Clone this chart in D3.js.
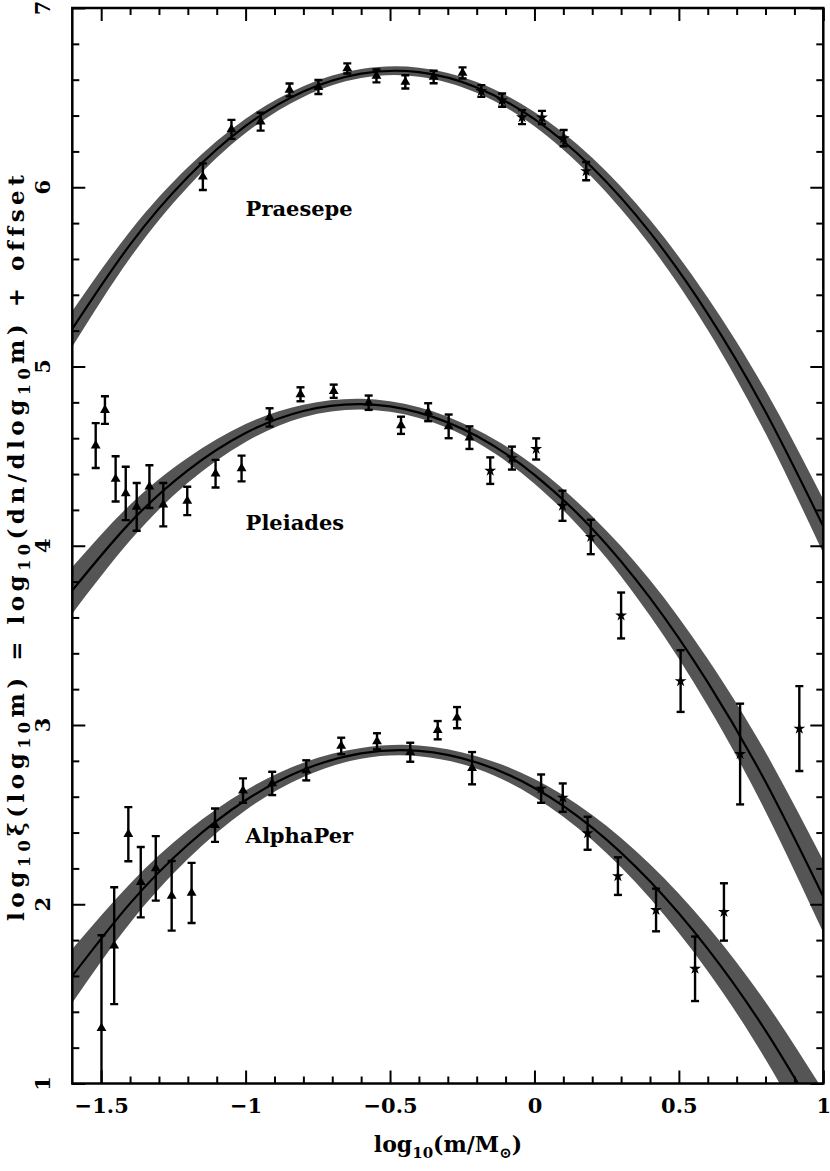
<!DOCTYPE html>
<html><head><meta charset="utf-8">
<script src="https://cdn.jsdelivr.net/npm/d3@7"></script>
<style>body{margin:0;background:#fff}svg{display:block}</style>
</head><body>
<svg id="c" width="830" height="1171"></svg>
<script>
// ---------- data ----------
const xTicks = [-1.5, -1, -0.5, 0, 0.5, 1];
const xTickLabels = ["\u22121.5", "\u22121", "\u22120.5", "0", "0.5", "1"];
const yTicks = [1, 2, 3, 4, 5, 6, 7];
const yTickLabels = ["1", "2", "3", "4", "5", "6", "7"];
const clusterNames = ["Praesepe", "Pleiades", "AlphaPer"];

const praesepeMass = [-1.148,-1.049,-0.948,-0.848,-0.748,-0.648,-0.547,-0.447,-0.349,-0.249,-0.184,-0.112,-0.043,0.026,0.101,0.179];
const praesepeValue = [6.059,6.323,6.366,6.543,6.559,6.663,6.621,6.588,6.615,6.638,6.537,6.486,6.391,6.389,6.274,6.090];
const praesepeErr = [0.074,0.053,0.050,0.036,0.039,0.028,0.036,0.037,0.035,0.031,0.033,0.037,0.039,0.037,0.045,0.051];
const praesepeMarker = ["t","t","t","t","t","t","t","t","t","t","s","s","s","s","s","s"];

const pleiadesMass = [-1.519,-1.487,-1.450,-1.415,-1.377,-1.333,-1.285,-1.202,-1.104,-1.014,-0.917,-0.810,-0.695,-0.574,-0.462,-0.368,-0.297,-0.225,-0.153,-0.078,0.006,0.097,0.195,0.300,0.506,0.712,0.917];
const pleiadesValue = [4.559,4.757,4.373,4.292,4.217,4.330,4.229,4.250,4.402,4.431,4.716,4.845,4.862,4.798,4.672,4.745,4.666,4.603,4.419,4.489,4.540,4.223,4.049,3.611,3.245,2.838,2.980];
const pleiadesErr = [0.125,0.077,0.126,0.149,0.133,0.119,0.121,0.079,0.077,0.072,0.051,0.039,0.037,0.040,0.048,0.050,0.066,0.063,0.074,0.064,0.059,0.084,0.096,0.128,0.172,0.281,0.237];
const pleiadesMarker = ["t","t","t","t","t","t","t","t","t","t","t","t","t","t","t","t","t","t","s","s","s","s","s","s","s","s","s"];

const alphaPerMass = [-1.499,-1.455,-1.406,-1.363,-1.311,-1.256,-1.187,-1.106,-1.009,-0.908,-0.790,-0.669,-0.545,-0.430,-0.335,-0.268,-0.216,0.023,0.098,0.184,0.289,0.421,0.556,0.656];
const alphaPerValue = [1.309,1.769,2.391,2.123,2.200,2.047,2.063,2.441,2.634,2.674,2.747,2.883,2.909,2.848,2.971,3.041,2.759,2.645,2.595,2.396,2.157,1.968,1.640,1.957];
const alphaPerErr = [0.518,0.326,0.151,0.196,0.180,0.194,0.168,0.093,0.068,0.065,0.056,0.046,0.045,0.053,0.051,0.059,0.090,0.079,0.079,0.092,0.105,0.119,0.180,0.160];
const alphaPerMarker = ["t","t","t","t","t","t","t","t","t","t","t","t","t","t","t","t","t","s","s","s","s","s","s","s"];

// fitted curves read at these masses, with their band half-widths
const curveMass = [-1.6,-1.4,-1.2,-1.0,-0.8,-0.6,-0.4,-0.2,0,0.2,0.4,0.6,0.8,1.0];
const praesepeFit = [5.210,5.680,6.057,6.342,6.534,6.634,6.642,6.557,6.380,6.110,5.748,5.294,4.747,4.108];
const praesepeFitErr = [0.100,0.075,0.055,0.040,0.030,0.025,0.025,0.030,0.040,0.055,0.070,0.090,0.120,0.150];
const pleiadesFit = [3.751,4.129,4.421,4.629,4.752,4.790,4.743,4.612,4.396,4.095,3.709,3.238,2.683,2.042];
const pleiadesFitErr = [0.130,0.100,0.070,0.050,0.035,0.030,0.030,0.035,0.050,0.070,0.100,0.130,0.165,0.200];
const alphaPerFit = [1.600,2.005,2.332,2.580,2.750,2.842,2.856,2.791,2.649,2.428,2.128,1.751,1.295,0.761];
const alphaPerFitErr = [0.150,0.110,0.080,0.055,0.040,0.030,0.030,0.035,0.050,0.070,0.095,0.125,0.160,0.200];

// ---------- layout ----------
const FONT = "'DejaVu Serif', serif";
const M = {l: 72.3, r: 823.3, t: 8, b: 1083.5};
const x = d3.scaleLinear().domain([-1.6, 1]).range([M.l, M.r]);
const y = d3.scaleLinear().domain([1, 7]).range([M.b, M.t]);
const svg = d3.select("#c");

svg.append("defs").append("clipPath").attr("id", "clip")
  .append("rect").attr("x", M.l).attr("y", M.t).attr("width", M.r - M.l).attr("height", M.b - M.t);
const plot = svg.append("g").attr("clip-path", "url(#clip)");

const series = [
  {mass: praesepeMass, val: praesepeValue, err: praesepeErr, mk: praesepeMarker, fit: praesepeFit, fitErr: praesepeFitErr},
  {mass: pleiadesMass, val: pleiadesValue, err: pleiadesErr, mk: pleiadesMarker, fit: pleiadesFit, fitErr: pleiadesFitErr},
  {mass: alphaPerMass, val: alphaPerValue, err: alphaPerErr, mk: alphaPerMarker, fit: alphaPerFit, fitErr: alphaPerFitErr}
];

const triSym = d3.symbol(d3.symbolTriangle, 42)();
const starSym = d3.symbol(d3.symbolStar, 44)();

series.forEach(s => {
  const pts = curveMass.map((m, i) => ({m, v: s.fit[i], e: s.fitErr[i]}));
  plot.append("path").datum(pts)
    .attr("d", d3.area().x(d => x(d.m)).y0(d => y(d.v - d.e)).y1(d => y(d.v + d.e)).curve(d3.curveNatural))
    .attr("fill", "#555555");
  plot.append("path").datum(pts)
    .attr("d", d3.line().x(d => x(d.m)).y(d => y(d.v)).curve(d3.curveNatural))
    .attr("fill", "none").attr("stroke", "#000").attr("stroke-width", 2.2);

  const data = s.mass.map((m, i) => ({m, v: s.val[i], e: s.err[i], k: s.mk[i]}));
  const g = plot.append("g");
  g.selectAll("line.eb").data(data).join("line")
    .attr("x1", d => x(d.m)).attr("x2", d => x(d.m))
    .attr("y1", d => y(d.v - d.e)).attr("y2", d => y(d.v + d.e))
    .attr("stroke", "#000").attr("stroke-width", 2.4);
  ["lo", "hi"].forEach(w => {
    g.selectAll("line.cap" + w).data(data).join("line")
      .attr("x1", d => x(d.m) - 4).attr("x2", d => x(d.m) + 4)
      .attr("y1", d => y(w === "lo" ? d.v - d.e : d.v + d.e))
      .attr("y2", d => y(w === "lo" ? d.v - d.e : d.v + d.e))
      .attr("stroke", "#000").attr("stroke-width", 2.4);
  });
  g.selectAll("path.mk").data(data).join("path")
    .attr("d", d => d.k === "t" ? triSym : starSym)
    .attr("transform", d => `translate(${x(d.m)},${y(d.v)})`)
    .attr("fill", "#000");
});

// cluster labels
const labelPos = [[-1.0, 5.84], [-1.0, 4.09], [-1.0, 2.34]];
clusterNames.forEach((n, i) => {
  svg.append("text").attr("x", x(labelPos[i][0])).attr("y", y(labelPos[i][1]))
    .attr("font-family", FONT).attr("font-weight", "bold").attr("font-size", 21)
    .attr("fill", "#000").text(n);
});

// ---------- axes ----------
const minorX = d3.range(-15, 11).map(d => d / 10).filter(d => !xTicks.some(t => Math.abs(t - d) < 1e-9));
const minorY = d3.range(5, 36).map(d => d / 5).filter(d => !yTicks.some(t => Math.abs(t - d) < 1e-9));

function styleAxis(g) {
  g.select(".domain").remove();
  g.selectAll(".tick line").attr("stroke", "#000").attr("stroke-width", 2);
}
svg.append("g").attr("transform", `translate(0,${M.b})`)
  .call(d3.axisBottom(x).tickValues(minorX).tickSize(-7).tickFormat("")).call(styleAxis);
svg.append("g").attr("transform", `translate(0,${M.b})`)
  .call(d3.axisBottom(x).tickValues(xTicks).tickSize(-13).tickPadding(15).tickFormat((d, i) => xTickLabels[i]))
  .call(styleAxis)
  .call(g => g.selectAll("text").attr("font-family", FONT).attr("font-weight", "bold").attr("font-size", 21).attr("fill", "#000"));
svg.append("g").attr("transform", `translate(0,${M.t})`)
  .call(d3.axisTop(x).tickValues(minorX).tickSize(-7).tickFormat("")).call(styleAxis);
svg.append("g").attr("transform", `translate(0,${M.t})`)
  .call(d3.axisTop(x).tickValues(xTicks).tickSize(-13).tickFormat("")).call(styleAxis);
svg.append("g").attr("transform", `translate(${M.l},0)`)
  .call(d3.axisLeft(y).tickValues(minorY).tickSize(-7).tickFormat("")).call(styleAxis);
svg.append("g").attr("transform", `translate(${M.l},0)`)
  .call(d3.axisLeft(y).tickValues(yTicks).tickSize(-13).tickFormat("")).call(styleAxis);
svg.append("g").attr("transform", `translate(${M.r},0)`)
  .call(d3.axisRight(y).tickValues(minorY).tickSize(-7).tickFormat("")).call(styleAxis);
svg.append("g").attr("transform", `translate(${M.r},0)`)
  .call(d3.axisRight(y).tickValues(yTicks).tickSize(-13).tickFormat("")).call(styleAxis);

svg.append("rect").attr("x", M.l).attr("y", M.t).attr("width", M.r - M.l).attr("height", M.b - M.t)
  .attr("fill", "none").attr("stroke", "#000").attr("stroke-width", 2.5);

// rotated y tick labels
svg.selectAll("text.yl").data(yTicks).join("text")
  .attr("transform", d => `translate(50,${y(d)}) rotate(-90)`)
  .attr("text-anchor", "middle")
  .attr("font-family", FONT).attr("font-weight", "bold").attr("font-size", 21).attr("fill", "#000")
  .text((d, i) => yTickLabels[i]);

// axis titles
const xt = svg.append("text").attr("x", 448).attr("y", 1152).attr("text-anchor", "middle")
  .attr("font-family", FONT).attr("font-weight", "bold").attr("font-size", 22).attr("fill", "#000");
xt.append("tspan").text("log");
xt.append("tspan").attr("dy", 6).attr("font-size", 15).text("10");
xt.append("tspan").attr("dy", -6).text("(m/M");
xt.append("tspan").attr("dy", 6).attr("font-size", 15).text("\u2299");
xt.append("tspan").attr("dy", -6).text(")");

const yt = svg.append("text").attr("transform", `translate(24,${(M.t + M.b) / 2}) rotate(-90)`)
  .attr("text-anchor", "middle").attr("letter-spacing", 4.5)
  .attr("font-family", FONT).attr("font-weight", "bold").attr("font-size", 23).attr("fill", "#000");
const parts = [["log", 0], ["10", 1], ["\u03BE(log", 0], ["10", 1], ["m) = log", 0], ["10", 1], ["(dn/dlog", 0], ["10", 1], ["m) + offset", 0]];
let cur = 0;
parts.forEach(([t, sub]) => {
  const dy = sub ? 6 - cur : -cur;
  cur = sub ? 6 : 0;
  yt.append("tspan").attr("dy", dy).attr("font-size", sub ? 16 : 23).text(t);
});
</script>
</body></html>
